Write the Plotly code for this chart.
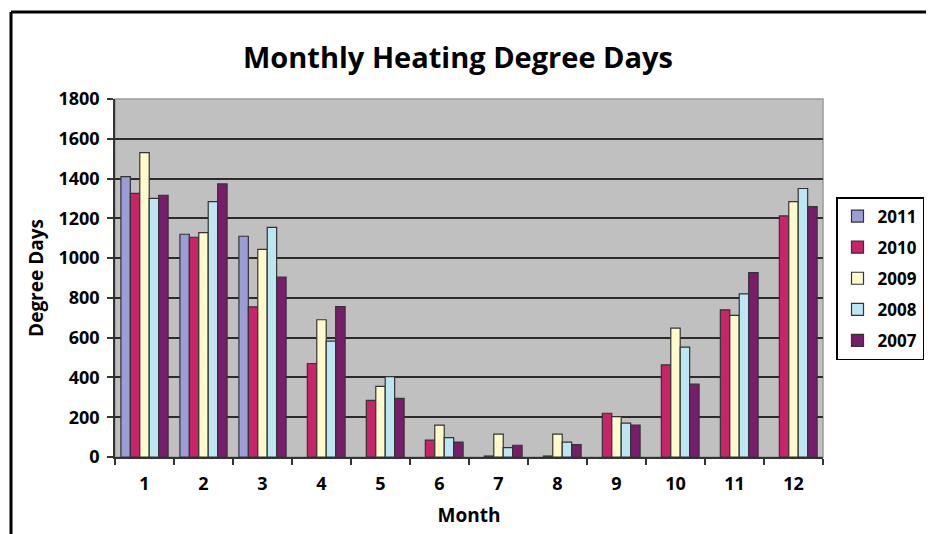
import plotly.graph_objects as go

months = ["1", "2", "3", "4", "5", "6", "7", "8", "9", "10", "11", "12"]
years = ["2011", "2010", "2009", "2008", "2007"]
hdd_2011 = [1410, 1120, 1110, None, None, None, None, None, None, None, None, None]
hdd_2010 = [1325, 1105, 755, 470, 285, 85, 5, 5, 220, 463, 740, 1212]
hdd_2009 = [1530, 1128, 1044, 690, 355, 160, 115, 115, 203, 648, 712, 1284]
hdd_2008 = [1300, 1284, 1155, 583, 404, 97, 47, 75, 170, 552, 820, 1350]
hdd_2007 = [1316, 1373, 904, 756, 295, 75, 59, 62, 161, 366, 927, 1259]
series = [hdd_2011, hdd_2010, hdd_2009, hdd_2008, hdd_2007]
colors = ["#9C9CD6", "#C82468", "#FFFACC", "#BDE6F3", "#7A1C6C"]

FONT = "Open Sans"

fig = go.Figure()
for name, vals, col in zip(years, series, colors):
    fig.add_trace(go.Bar(
        x=months, y=vals, name=name, legendgroup=name,
        marker=dict(color=col, line=dict(color="#333333", width=1.2)),
    ))

OFF = 8  # page body margin
W, H = 934, 534
# target plot area in page pixels
PL, PR, PT, PB = 115, 823, 99, 457
L = PL - OFF
T = PT - OFF
R = W - (PR - OFF)
B = H - (PB - OFF)
pw, ph = W - L - R, H - T - B

def px_x(p):
    return (p - OFF - L) / pw

def px_y(p):
    return (H - B - (p - OFF)) / ph

fig.update_layout(
    width=W, height=H,
    margin=dict(l=L, r=R, t=T, b=B, autoexpand=False),
    paper_bgcolor="white",
    plot_bgcolor="#C0C0C0",
    barmode="group",
    bargap=0.2,
    bargroupgap=0,
    font=dict(family=FONT, color="black"),
    title=dict(
        text="<b>Monthly Heating Degree Days</b>",
        x=(458 - OFF) / W, xanchor="center", xref="container",
        y=1 - (58 - OFF) / H, yanchor="middle", yref="container",
        font=dict(size=29, family=FONT, color="black"),
    ),
    legend=dict(
        x=px_x(836), xanchor="left",
        y=px_y(197), yanchor="top",
        bordercolor="black", borderwidth=1.5,
        bgcolor="white",
        font=dict(size=17, family=FONT, color="black", weight="bold"),
        tracegroupgap=6,
        itemwidth=30,
    ),
    xaxis=dict(
        type="category",
        tickson="boundaries",
        ticks="outside", ticklen=6, tickwidth=1.5, tickcolor="#333",
        showline=True, linecolor="#333", linewidth=1.5,
        showgrid=False,
        tickfont=dict(size=18, family=FONT, color="black", weight="bold"),
        ticklabelstandoff=10,
        title=dict(text="<b>Month</b>", font=dict(size=19, family=FONT, color="black"), standoff=14),
    ),
    yaxis=dict(
        range=[0, 1800],
        tickvals=[0, 200, 400, 600, 800, 1000, 1200, 1400, 1600, 1800],
        ticks="outside", ticklen=6, tickwidth=1.5, tickcolor="#333",
        showline=True, linecolor="#333", linewidth=1.5,
        showgrid=True, gridcolor="#2b2b2b", gridwidth=2,
        zeroline=False,
        tickfont=dict(size=18, family=FONT, color="black", weight="bold"),
        ticklabelstandoff=4,
        title=dict(text="<b>Degree Days</b>", font=dict(size=19, family=FONT, color="black"), standoff=10),
    ),
    shapes=[
        dict(type="rect", xref="paper", yref="paper", x0=0, x1=1, y0=0, y1=1,
             line=dict(color="#9a9a9a", width=1.5), layer="below"),
        dict(type="line", xref="paper", yref="paper",
             x0=px_x(11), x1=px_x(11), y0=px_y(560), y1=px_y(12),
             line=dict(color="black", width=3)),
        dict(type="line", xref="paper", yref="paper",
             x0=px_x(11), x1=px_x(926), y0=px_y(12), y1=px_y(12),
             line=dict(color="black", width=3)),
        dict(type="line", xref="paper", yref="paper",
             x0=px_x(920.5), x1=px_x(920.5), y0=px_y(201), y1=px_y(359),
             line=dict(color="#333333", width=3)),
    ],
)

fig.write_html("out.html")
